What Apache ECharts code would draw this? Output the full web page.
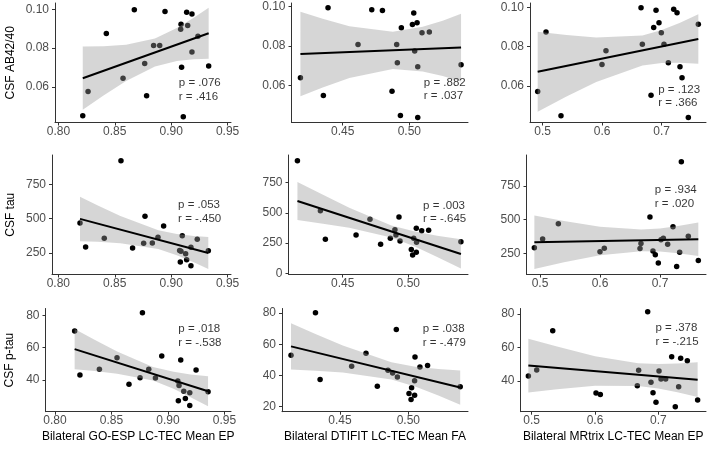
<!DOCTYPE html>
<html><head><meta charset="utf-8">
<script src="https://cdn.jsdelivr.net/npm/echarts@6/dist/echarts.min.js"></script>
<style>html,body{margin:0;padding:0;background:#fff}#c{width:709px;height:453px}</style>
</head><body><div id="c"></div><script>
// ---------------- DATA ----------------
const xTitles = ['Bilateral GO-ESP LC-TEC Mean EP', 'Bilateral DTIFIT LC-TEC Mean FA', 'Bilateral MRtrix LC-TEC Mean EP'];
const yTitles = ['CSF AB42/40', 'CSF tau', 'CSF p-tau'];

const xTicksC1 = [0.80, 0.85, 0.90, 0.95];
const xTicksC2 = [0.45, 0.50];
const xTicksC3 = [0.5, 0.6, 0.7];
const yTicksR1 = [0.06, 0.08, 0.10];
const yTicksR2 = [250, 500, 750];
const yTicksR2C2 = [0, 250, 500, 750];
const yTicksR3 = [40, 60, 80];
const yTicksR3C2 = [20, 40, 60, 80];

// Row 1: CSF AB42/40
const r1c1X = [0.8216,0.8263,0.8425,0.8573,0.8673,0.8765,0.8782,0.8844,0.8898,0.8945,0.9084,0.9087,0.9092,0.9107,0.9137,0.9146,0.9184,0.9184,0.9237,0.9332];
const r1c1Y = [0.0452,0.0576,0.0875,0.0645,0.0997,0.0720,0.0555,0.0813,0.0813,0.0988,0.0897,0.0923,0.0701,0.0446,0.0985,0.0916,0.0976,0.0780,0.0861,0.0708];
const r1c1FitX = [0.8216, 0.9332];
const r1c1FitY = [0.0645, 0.0876];
const r1c1BandX = [0.8216,0.840,0.860,0.8856,0.905,0.920,0.9332];
const r1c1BandLo = [0.0482,0.0556,0.0631,0.0705,0.0733,0.0742,0.0745];
const r1c1BandHi = [0.0808,0.0810,0.0817,0.0849,0.0903,0.0956,0.1007];
const r1c1Stats = ['p = .076', 'r = .416'];
const r1c1StatAt = [0.9063, 0.0585];

const r1c2X = [0.4183,0.4355,0.4390,0.4615,0.4718,0.4798,0.4870,0.4905,0.4910,0.4933,0.4940,0.5023,0.5033,0.5040,0.5058,0.5063,0.5063,0.5095,0.5150,0.5388];
const r1c2Y = [0.0639,0.0549,0.0995,0.0808,0.0985,0.0981,0.0570,0.0808,0.0715,0.0447,0.0893,0.0910,0.0968,0.0775,0.0919,0.0695,0.0437,0.0868,0.0871,0.0705];
const r1c2FitX = [0.4183, 0.5388];
const r1c2FitY = [0.0759, 0.0792];
const r1c2BandX = [0.4183,0.435,0.455,0.4876,0.510,0.525,0.5388];
const r1c2BandLo = [0.0544,0.0589,0.0637,0.0683,0.0670,0.0647,0.0620];
const r1c2BandHi = [0.0975,0.0939,0.0901,0.0873,0.0898,0.0929,0.0964];
const r1c2Stats = ['p = .882', 'r = .037'];
const r1c2StatAt = [0.5105, 0.0580];

const r1c3X = [0.4916,0.5056,0.5308,0.5997,0.6064,0.6653,0.6675,0.6821,0.6866,0.6905,0.6955,0.6994,0.7039,0.7112,0.7202,0.7258,0.7308,0.7342,0.7448,0.7616];
const r1c3Y = [0.0573,0.0875,0.0449,0.0710,0.0780,0.0998,0.0812,0.0553,0.0897,0.0985,0.0922,0.0871,0.0812,0.0719,0.0990,0.0973,0.0698,0.0642,0.0441,0.0914];
const r1c3FitX = [0.4916, 0.7616];
const r1c3FitY = [0.0673, 0.0839];
const r1c3BandX = [0.4916,0.54,0.59,0.6677,0.70,0.73,0.7616];
const r1c3BandLo = [0.0470,0.0547,0.0621,0.0705,0.0717,0.0719,0.0713];
const r1c3BandHi = [0.0876,0.0859,0.0847,0.0857,0.0885,0.0921,0.0965];
const r1c3Stats = ['p = .123', 'r = .366'];
const r1c3StatAt = [0.6933, 0.0549];

// Row 2: CSF tau
const r2c1X = [0.8192,0.8242,0.8407,0.8555,0.8658,0.8756,0.8768,0.8833,0.8883,0.8933,0.9075,0.9081,0.9087,0.9098,0.9128,0.9137,0.9175,0.9175,0.9231,0.9329];
const r2c1Y = [468,294,357,922,286,320,517,323,364,447,269,184,262,376,245,201,158,291,350,267];
const r2c1FitX = [0.8192, 0.9329];
const r2c1FitY = [498, 250];
const r2c1BandX = [0.8192,0.835,0.855,0.8886,0.905,0.920,0.9329];
const r2c1BandLo = [336,331,321,279,234,183,134];
const r2c1BandHi = [660,596,519,415,388,373,366];
const r2c1Stats = ['p = .053', 'r = -.450'];
const r2c1StatAt = [0.9057, 548];

const r2c2X = [0.4155,0.4330,0.4368,0.4602,0.4708,0.4789,0.4863,0.4898,0.4906,0.4929,0.4937,0.5023,0.5033,0.5041,0.5061,0.5063,0.5061,0.5102,0.5155,0.5401];
const r2c2Y = [932,518,281,317,447,240,290,361,317,466,267,196,152,290,372,256,174,353,356,262];
const r2c2FitX = [0.4155, 0.5401];
const r2c2FitY = [598, 160];
const r2c2BandX = [0.4155,0.435,0.455,0.4871,0.505,0.522,0.5401];
const r2c2BandLo = [441,410,376,296,221,135,39];
const r2c2BandHi = [755,649,542,396,345,311,281];
const r2c2Stats = ['p = .003', 'r = -.645'];
const r2c2StatAt = [0.5109, 505];

const r2c3X = [0.4906,0.5044,0.5306,0.6000,0.6072,0.6667,0.6683,0.6833,0.6883,0.6922,0.6972,0.7017,0.7056,0.7128,0.7217,0.7278,0.7328,0.7356,0.7472,0.7639];
const r2c3Y = [292,356,470,262,287,285,322,520,267,240,178,351,361,317,448,151,257,930,376,196];
const r2c3FitX = [0.4906, 0.7639];
const r2c3FitY = [332, 354];
const r2c3BandX = [0.4906,0.54,0.60,0.6689,0.70,0.73,0.7639];
const r2c3BandLo = [134,183,235,266,263,250,229];
const r2c3BandHi = [530,489,447,426,435,452,479];
const r2c3Stats = ['p = .934', 'r = .020'];
const r2c3StatAt = [0.6906, 670];

// Row 3: CSF p-tau
const r3c1X = [0.8174,0.8221,0.8393,0.8549,0.8655,0.8753,0.8774,0.8830,0.8889,0.8945,0.9087,0.9092,0.9098,0.9113,0.9140,0.9154,0.9193,0.9193,0.9249,0.9355];
const r3c1Y = [70.4,43.1,46.6,53.7,37.3,41.4,81.6,46.6,41.2,54.8,39.4,27.1,36.5,52.3,33.0,28.5,24.2,32.0,46.2,32.6];
const r3c1FitX = [0.8174, 0.9355];
const r3c1FitY = [59.1, 33.0];
const r3c1BandX = [0.8174,0.835,0.855,0.8867,0.905,0.920,0.9355];
const r3c1BandLo = [46.6,45.5,43.9,39.6,34.5,29.3,23.7];
const r3c1BandHi = [71.6,64.9,57.6,48.0,45.0,43.4,42.3];
const r3c1Stats = ['p = .018', 'r = -.538'];
const r3c1StatAt = [0.9087, 67.4];

const r3c2X = [0.4141,0.4320,0.4354,0.4585,0.4690,0.4773,0.4851,0.4885,0.4912,0.4920,0.5005,0.5020,0.5024,0.5046,0.5046,0.5049,0.5085,0.5141,0.5380];
const r3c2Y = [53.0,80.2,37.4,46.0,54.3,33.2,43.4,41.7,69.6,39.1,28.5,24.7,32.1,36.6,27.4,51.9,45.5,46.4,32.8];
const r3c2FitX = [0.4141, 0.5380];
const r3c2FitY = [58.7, 32.3];
const r3c2BandX = [0.4141,0.432,0.452,0.4876,0.505,0.522,0.538];
const r3c2BandLo = [43.8,43.1,41.9,37.5,32.9,27.2,21.3];
const r3c2BandHi = [73.6,66.7,59.3,48.5,45.7,44.2,43.3];
const r3c2Stats = ['p = .038', 'r = -.479'];
const r3c2StatAt = [0.5102, 65.6];

const r3c3X = [0.4947,0.5079,0.5332,0.6016,0.6084,0.6668,0.6689,0.6832,0.6884,0.6916,0.6963,0.7011,0.7042,0.7116,0.7211,0.7268,0.7321,0.7353,0.7458,0.7621];
const r3c3Y = [43.0,46.6,70.0,32.8,32.0,37.2,46.4,81.2,39.2,33.0,27.3,46.0,41.2,41.2,54.5,24.7,36.6,53.5,52.1,28.7];
const r3c3FitX = [0.4947, 0.7621];
const r3c3FitY = [49.2, 40.8];
const r3c3BandX = [0.4947,0.54,0.60,0.668,0.70,0.73,0.7621];
const r3c3BandLo = [33.2,35.1,37.1,37.0,35.5,33.3,30.4];
const r3c3BandHi = [65.2,60.5,54.8,50.6,50.1,50.4,51.2];
const r3c3Stats = ['p = .378', 'r = -.215'];
const r3c3StatAt = [0.6947, 67.4];

// ---------------- LAYOUT ----------------
const FONT = 'Liberation Sans, Arial, Helvetica, sans-serif';
// [left, top, right, bottom] in px
const boxes = [
  [55, 3, 231, 122.5], [291.5, 3, 468, 122.5], [530, 3, 706, 122.5],
  [52, 155, 231, 274.5], [288.5, 155, 468, 274.5], [526.5, 155, 706, 274.5],
  [45.5, 308.5, 231, 411.7], [282, 308.5, 468, 411.7], [520.5, 308.5, 706, 411.7]
];
const xRanges = [
  [0.797, 0.953], [0.4116, 0.544], [0.4787, 0.7745],
  [0.7944, 0.953], [0.4087, 0.5455], [0.4775, 0.7767],
  [0.7916, 0.9558], [0.4075, 0.5437], [0.4823, 0.7753]
];
const yRanges = [
  [0.0417, 0.1032], [0.0411, 0.1019], [0.0415, 0.1022],
  [93.5, 963], [-10, 979], [92.5, 980],
  [20.3, 84.3], [16.8, 83.0], [21.7, 83.2]
];
const yNameGaps = [38, 35, 30];

const panels = [
  {x:r1c1X,y:r1c1Y,fx:r1c1FitX,fy:r1c1FitY,bx:r1c1BandX,lo:r1c1BandLo,hi:r1c1BandHi,st:r1c1Stats,sa:r1c1StatAt,xt:xTicksC1,yt:yTicksR1,xd:2,yd:2},
  {x:r1c2X,y:r1c2Y,fx:r1c2FitX,fy:r1c2FitY,bx:r1c2BandX,lo:r1c2BandLo,hi:r1c2BandHi,st:r1c2Stats,sa:r1c2StatAt,xt:xTicksC2,yt:yTicksR1,xd:2,yd:2},
  {x:r1c3X,y:r1c3Y,fx:r1c3FitX,fy:r1c3FitY,bx:r1c3BandX,lo:r1c3BandLo,hi:r1c3BandHi,st:r1c3Stats,sa:r1c3StatAt,xt:xTicksC3,yt:yTicksR1,xd:1,yd:2},
  {x:r2c1X,y:r2c1Y,fx:r2c1FitX,fy:r2c1FitY,bx:r2c1BandX,lo:r2c1BandLo,hi:r2c1BandHi,st:r2c1Stats,sa:r2c1StatAt,xt:xTicksC1,yt:yTicksR2,xd:2,yd:0},
  {x:r2c2X,y:r2c2Y,fx:r2c2FitX,fy:r2c2FitY,bx:r2c2BandX,lo:r2c2BandLo,hi:r2c2BandHi,st:r2c2Stats,sa:r2c2StatAt,xt:xTicksC2,yt:yTicksR2C2,xd:2,yd:0},
  {x:r2c3X,y:r2c3Y,fx:r2c3FitX,fy:r2c3FitY,bx:r2c3BandX,lo:r2c3BandLo,hi:r2c3BandHi,st:r2c3Stats,sa:r2c3StatAt,xt:xTicksC3,yt:yTicksR2,xd:1,yd:0},
  {x:r3c1X,y:r3c1Y,fx:r3c1FitX,fy:r3c1FitY,bx:r3c1BandX,lo:r3c1BandLo,hi:r3c1BandHi,st:r3c1Stats,sa:r3c1StatAt,xt:xTicksC1,yt:yTicksR3,xd:2,yd:0},
  {x:r3c2X,y:r3c2Y,fx:r3c2FitX,fy:r3c2FitY,bx:r3c2BandX,lo:r3c2BandLo,hi:r3c2BandHi,st:r3c2Stats,sa:r3c2StatAt,xt:xTicksC2,yt:yTicksR3C2,xd:2,yd:0},
  {x:r3c3X,y:r3c3Y,fx:r3c3FitX,fy:r3c3FitY,bx:r3c3BandX,lo:r3c3BandLo,hi:r3c3BandHi,st:r3c3Stats,sa:r3c3StatAt,xt:xTicksC3,yt:yTicksR3,xd:1,yd:0}
];

const zip = (a, b) => a.map((v, i) => [v, b[i]]);
const axisCol = '#333333';
const tickLabCol = '#4d4d4d';

const grid = [], xAxis = [], yAxis = [], series = [];
panels.forEach((p, i) => {
  const row = Math.floor(i / 3), col = i % 3;
  const b = boxes[i];
  grid.push({left: b[0], top: b[1], width: b[2] - b[0], height: b[3] - b[1], containLabel: false});
  xAxis.push({
    type: 'value', gridIndex: i, min: xRanges[i][0], max: xRanges[i][1],
    axisLine: {show: true, onZero: false, lineStyle: {color: axisCol, width: 1}},
    axisTick: {show: true, length: 3, customValues: p.xt, lineStyle: {color: axisCol}},
    axisLabel: {customValues: p.xt, color: tickLabCol, fontSize: 12, fontFamily: FONT, margin: 3,
      formatter: v => v.toFixed(p.xd), showMinLabel: true, showMaxLabel: true},
    splitLine: {show: false},
    name: row === 2 ? xTitles[col] : '', nameLocation: 'middle', nameGap: 19,
    nameTextStyle: {color: '#000', fontSize: 12, fontFamily: FONT}
  });
  yAxis.push({
    type: 'value', gridIndex: i, min: yRanges[i][0], max: yRanges[i][1],
    axisLine: {show: true, onZero: false, lineStyle: {color: axisCol, width: 1}},
    axisTick: {show: true, length: 3, customValues: p.yt, lineStyle: {color: axisCol}},
    axisLabel: {customValues: p.yt, color: tickLabCol, fontSize: 12, fontFamily: FONT, margin: 6,
      formatter: v => v.toFixed(p.yd)},
    splitLine: {show: false},
    name: col === 0 ? yTitles[row] : '', nameLocation: 'middle', nameRotate: 90, nameGap: yNameGaps[row],
    nameTextStyle: {color: '#000', fontSize: 12, fontFamily: FONT}
  });
  series.push({
    type: 'scatter', xAxisIndex: i, yAxisIndex: i, data: zip(p.x, p.y),
    symbolSize: 5.5, itemStyle: {color: '#000', opacity: 1}, z: 2, silent: true
  });
  // confidence band: polygon through the read upper and lower edges
  const bandPts = p.bx.map((v, k) => [v, p.lo[k], p.hi[k]]);
  series.push({
    type: 'custom', xAxisIndex: i, yAxisIndex: i, data: [0], z: 3, silent: true, clip: true,
    renderItem: (params, api) => {
      const upper = bandPts.map(d => api.coord([d[0], d[2]]));
      const lower = bandPts.map(d => api.coord([d[0], d[1]])).reverse();
      return {type: 'polygon', shape: {points: upper.concat(lower)},
        style: {fill: 'rgba(153,153,153,0.4)', stroke: null}};
    }
  });
  series.push({
    type: 'line', xAxisIndex: i, yAxisIndex: i, data: zip(p.fx, p.fy),
    symbol: 'none', lineStyle: {color: '#000', width: 2}, z: 4, silent: true
  });
  series.push({
    type: 'scatter', xAxisIndex: i, yAxisIndex: i, data: [p.sa], symbolSize: 1,
    itemStyle: {color: 'rgba(0,0,0,0)'}, z: 5, silent: true,
    label: {show: true, position: 'right', distance: 0, formatter: p.st.join('\n'), color: '#000',
      fontSize: 11.5, lineHeight: 13.5, fontFamily: FONT, align: 'left', verticalAlign: 'middle'}
  });
});

const chart = echarts.init(document.getElementById('c'), null, {renderer: 'canvas'});
chart.setOption({animation: false, backgroundColor: '#fff', grid, xAxis, yAxis, series});
</script></body></html>
